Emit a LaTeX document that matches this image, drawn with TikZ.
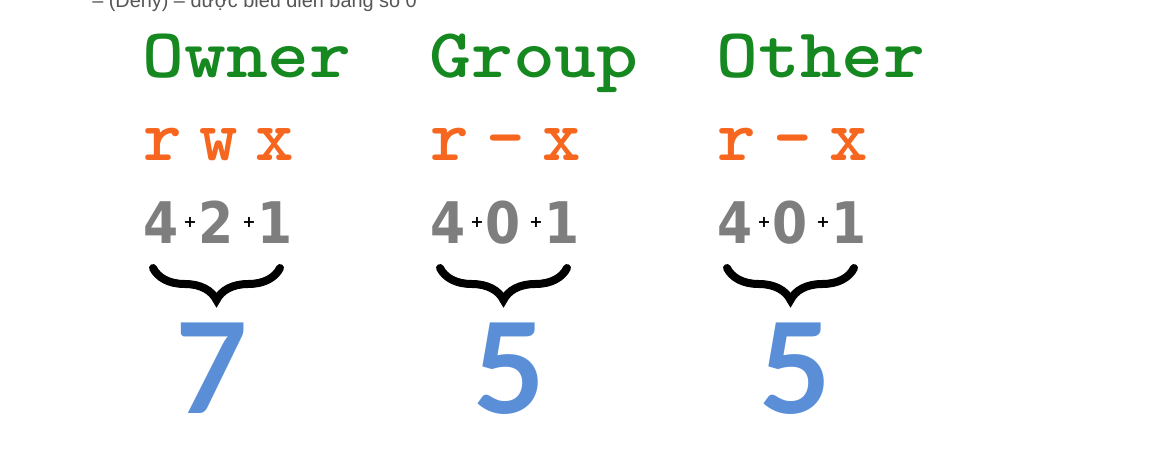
\documentclass[tikz,border=0pt]{standalone}
\usepackage{fontspec}
\usetikzlibrary{decorations.pathreplacing}
\newfontfamily\notefont{Liberation Sans}
\newfontfamily\bitfont{DejaVu Sans}
\newfontfamily\totalfont{Lato}
\definecolor{permgreen}{HTML}{15881F}
\definecolor{permorange}{HTML}{F6661E}
\definecolor{bitgrey}{HTML}{7E7E7E}
\definecolor{totalblue}{HTML}{5A8FD7}
\definecolor{notegrey}{HTML}{555555}
\newcommand{\wide}[1]{\scalebox{1.14}[1]{#1}}
\newcommand{\slim}[1]{\scalebox{0.88}[1]{#1}}

\begin{document}
\begin{tikzpicture}[x=0.75pt,y=-0.75pt,
    every node/.style={inner sep=0pt},
    who/.style={anchor=base west,text=permgreen,font=\ttfamily\bfseries\fontsize{52.5}{52.5}\selectfont},
    flag/.style={anchor=base,text=permorange,font=\ttfamily\bfseries\fontsize{55}{55}\selectfont},
    bit/.style={anchor=base,text=bitgrey,font=\bitfont\bfseries\fontsize{43}{43}\selectfont},
    plus/.style={font=\bitfont\bfseries\fontsize{12}{12}\selectfont},
    total/.style={anchor=base,text=totalblue,font=\totalfont\bfseries\fontsize{94}{94}\selectfont},
    sumbrace/.style={decorate,decoration={brace,mirror,amplitude=24pt},line width=6pt,line cap=round}]
    \clip (0,0) rectangle (1162,467);
    \fill[white] (0,0) rectangle (1162,467);

    \node[anchor=base west,text=notegrey,font=\notefont\fontsize{14.9}{14.9}\selectfont] (note) at (92,8) {– (Deny) – được biểu diễn bằng số 0};

    \node[who] (owner) at (142,78) {\wide{Owner}};
    \node[who] (group) at (429,78) {\wide{Group}};
    \node[who] (other) at (716,78) {\wide{Other}};

    \node[flag] (or) at (163,160) {r};
    \node[flag] (ow) at (219,160) {w};
    \node[flag] (ox) at (275,160) {x};
    \node[flag] (gr) at (450,160) {r};
    \node[flag] (gw) at (506,160) {-};
    \node[flag] (gx) at (562,160) {x};
    \node[flag] (tr) at (737,160) {r};
    \node[flag] (tw) at (793,160) {-};
    \node[flag] (tx) at (849,160) {x};

    \node[bit] (o4) at (161,243) {\slim{4}};
    \node[plus] (op1) at (190,222) {+};
    \node[bit] (o2) at (216,243) {\slim{2}};
    \node[plus] (op2) at (249,222) {+};
    \node[bit] (o1) at (275,243) {\slim{1}};
    \node[bit] (g4) at (448,243) {\slim{4}};
    \node[plus] (gp1) at (477,222) {+};
    \node[bit] (g0) at (503,243) {\slim{0}};
    \node[plus] (gp2) at (536,222) {+};
    \node[bit] (g1) at (562,243) {\slim{1}};
    \node[bit] (t4) at (735,243) {\slim{4}};
    \node[plus] (tp1) at (764,222) {+};
    \node[bit] (t0) at (790,243) {\slim{0}};
    \node[plus] (tp2) at (823,222) {+};
    \node[bit] (t1) at (849,243) {\slim{1}};

    \coordinate (ob) at (153,268);
    \coordinate (oe) at (280,268);
    \coordinate (gb) at (440,268);
    \coordinate (ge) at (567,268);
    \coordinate (tb) at (727,268);
    \coordinate (te) at (854,268);
    \draw[sumbrace] (ob) -- (oe);
    \draw[sumbrace] (gb) -- (ge);
    \draw[sumbrace] (tb) -- (te);

    \node[total] (osum) at (212,413) {7};
    \node[total] (gsum) at (509,413) {5};
    \node[total] (tsum) at (795,413) {5};
\end{tikzpicture}
\end{document}
